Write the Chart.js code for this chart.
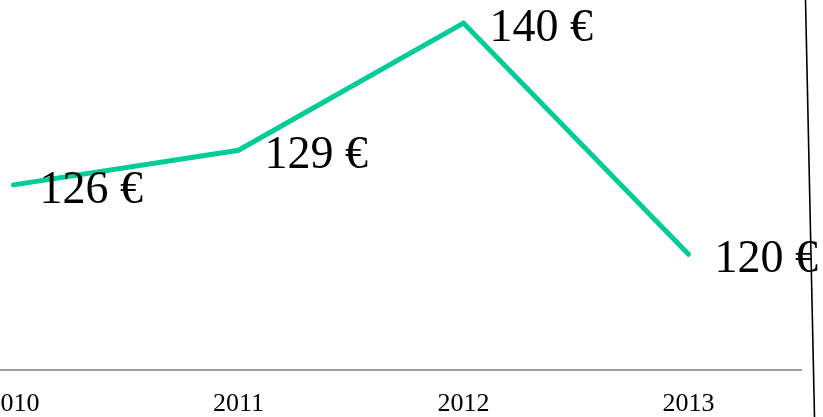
<!DOCTYPE html>
<html>
<head>
<meta charset="utf-8">
<script src="https://cdn.jsdelivr.net/npm/chart.js@4"></script>
<style>
  html, body { margin: 0; padding: 0; background: #fff; overflow: hidden; width: 823px; height: 417px; }
  #wrap { position: absolute; left: -99px; top: 0; width: 930px; height: 439px; }
  #frame { position: absolute; left: 0; top: 0; width: 823px; height: 417px; pointer-events: none; }
</style>
</head>
<body>
<div id="wrap"><canvas id="c"></canvas></div>
<svg id="frame" width="823" height="417"><line x1="805.5" y1="0" x2="814.5" y2="417" stroke="#000" stroke-width="1.6"/></svg>
<script>
const categories = ['2010', '2011', '2012', '2013'];
const prices = [126, 129, 140, 120];
const valueLabels = ['126 €', '129 €', '140 €', '120 €'];

const labelPlugin = {
  id: 'valueLabels',
  afterDatasetsDraw(chart) {
    const ctx = chart.ctx;
    const meta = chart.getDatasetMeta(0);
    ctx.save();
    ctx.font = '46px "Liberation Serif", "Times New Roman", serif';
    ctx.fillStyle = '#000';
    ctx.textAlign = 'left';
    ctx.textBaseline = 'alphabetic';
    meta.data.forEach((pt, i) => {
      ctx.fillText(valueLabels[i], pt.x + 26, pt.y + 18);
    });
    ctx.restore();
  }
};

new Chart(document.getElementById('c'), {
  type: 'line',
  data: {
    labels: categories,
    datasets: [{
      data: prices,
      borderColor: '#00cc98',
      borderWidth: 5,
      borderCapStyle: 'round',
      borderJoinStyle: 'miter',
      pointRadius: 0,
      tension: 0,
      fill: false
    }]
  },
  options: {
    responsive: true,
    maintainAspectRatio: false,
    animation: false,
    layout: { padding: { left: 0, right: 30, top: 0, bottom: 0 } },
    plugins: { legend: { display: false }, tooltip: { enabled: false } },
    scales: {
      x: {
        offset: true,
        grid: { display: false, drawTicks: false },
        border: { display: true, color: '#a0a0a0', width: 2 },
        ticks: {
          color: '#000',
          padding: 19,
          font: { family: '"Liberation Serif", "Times New Roman", serif', size: 26 }
        }
      },
      y: {
        display: false,
        min: 110,
        max: 142
      }
    }
  },
  plugins: [labelPlugin]
});
</script>
</body>
</html>
